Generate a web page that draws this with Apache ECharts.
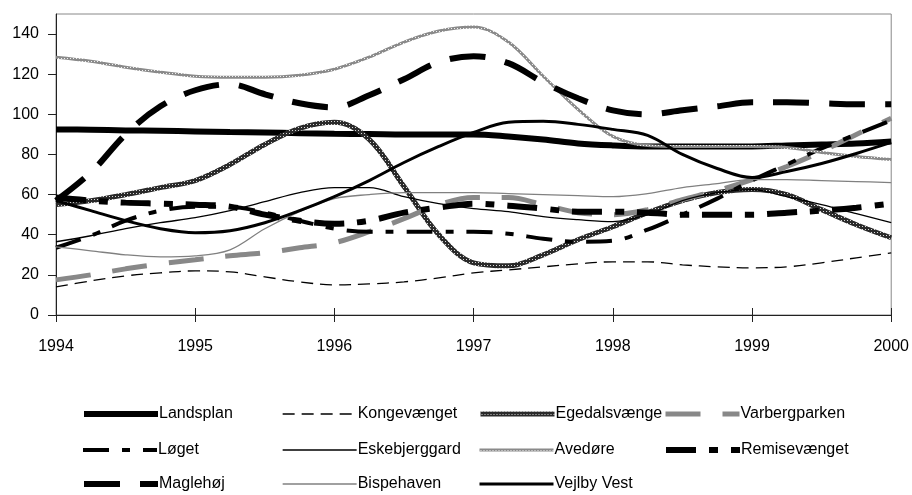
<!DOCTYPE html>
<html>
<head>
<meta charset="utf-8">
<script src="https://cdn.jsdelivr.net/npm/echarts@6/dist/echarts.min.js"></script>
<style>
  html, body { margin: 0; padding: 0; background: #fff; }
  #chart { width: 912px; height: 495px; }
</style>
</head>
<body>
<div id="chart"></div>
<script>
// quarterly x positions
const years = [1994, 1994.25, 1994.5, 1994.75, 1995, 1995.25, 1995.5, 1995.75, 1996, 1996.25, 1996.5, 1996.75,
  1997, 1997.25, 1997.5, 1997.75, 1998, 1998.25, 1998.5, 1998.75, 1999, 1999.25, 1999.5, 1999.75, 2000]

const landsplan = [92.5, 92.3, 92, 91.8, 91.5, 91.2, 91, 90.6, 90.3, 90.2, 90, 90, 90, 89, 87.5, 85.5, 84.5, 84, 84, 84, 84, 84.5, 85, 85.5, 86.5]
const kongevaenget = [14, 17, 19.5, 21, 22, 21.5, 19, 16.5, 15, 15.5, 16.5, 18.5, 21, 22.5, 24, 25.5, 26.5, 26.5, 25, 24, 23.5, 24, 26, 28.5, 31]
const egedalsvaenge = [55, 57, 60, 63.5, 67, 75, 85, 93, 96, 87.5, 64, 40, 26, 24.5, 30, 37.5, 44, 51, 57, 61, 62.5, 60, 52.5, 45, 38.5]
const varbergparken = [17.5, 20, 23, 25.5, 27.5, 29.5, 31, 33.5, 36, 41.5, 48, 55, 58.5, 58.5, 55, 51, 50, 52.5, 57.5, 62, 67.5, 74, 81.5, 90, 98]
const loget = [33.5, 39.5, 47, 52, 54, 54, 51, 47, 43, 41.5, 41.5, 41.5, 41.5, 40.5, 38, 36.5, 37, 42.5, 50, 58, 67, 75, 83, 90, 97]
const eskebjerggard = [36.5, 39.5, 43, 46, 48.5, 52, 56.5, 61, 63.5, 63.5, 59, 55.5, 53, 51.5, 49, 47.5, 46.5, 50, 57, 61, 62.5, 59, 55, 50.5, 46]
const avedore = [128.5, 126.5, 123.5, 121, 119, 118.5, 118.5, 119.5, 122.5, 128.5, 136, 141.5, 143.5, 136, 119, 102.5, 89, 84.5, 84, 84, 84, 83.5, 81, 79, 77.5]
const remisevaenget = [58.5, 57, 56, 55.5, 55, 54, 50, 47, 45.5, 47, 51, 53.5, 55.5, 54.5, 53, 51.5, 51.5, 51, 50, 50, 50, 51, 52, 53.5, 55.5]
const maglehoj = [57, 71, 90, 104, 112, 115, 110, 105.5, 103.5, 109.5, 117.5, 126, 129, 125.5, 116, 108, 102, 100, 102, 104, 106, 106, 105.5, 105, 105]
const bispehaven = [34, 32, 30, 29, 29.5, 32.5, 43, 51.5, 58, 60, 61, 61, 61, 60.5, 60, 59.5, 59, 60.5, 63.5, 65.5, 67.5, 67.5, 67, 66.5, 66]
const vejlbyVest = [57, 52, 47, 43, 41, 42, 46, 52, 59, 67, 76, 84, 91, 96, 96.5, 95, 92.5, 89.5, 80, 73, 68.5, 71.5, 75.5, 80.5, 86]

const yTicks = [0, 20, 40, 60, 80, 100, 120, 140]

// legend grid: columns x 3 rows
const legendCols = [
  ['Landsplan', 'Løget', 'Maglehøj'],
  ['Kongevænget', 'Eskebjerggard', 'Bispehaven'],
  ['Egedalsvænge', 'Avedøre', 'Vejlby Vest'],
  ['Varbergparken', 'Remisevænget'],
]
const legendLeft = [81, 282, 478, 663]
const legendRowY = [414, 450, 484]

// small checker patterns for the textured lines
function makePattern(dark, light) {
  const c = document.createElement('canvas')
  c.width = 3; c.height = 3
  const ctx = c.getContext('2d')
  ctx.fillStyle = dark
  ctx.fillRect(0, 0, 3, 3)
  ctx.fillStyle = light
  ctx.fillRect(1, 1, 1, 1)
  return { image: c, repeat: 'repeat' }
}
const egedalPattern = makePattern('#2a2a2a', '#d8d8d8')
const avedorePattern = makePattern('#8a8a8a', '#f0f0f0')

function pairs(vals) {
  return vals.map((v, i) => [years[i], v])
}

const styles = {}
function line(name, vals, color, width, type) {
  styles[name] = { color, width, type: type || 'solid' }
  return {
    name,
    type: 'line',
    data: pairs(vals),
    smooth: 0.35,
    symbol: 'none',
    lineStyle: { color, width, type: type || 'solid' },
    itemStyle: { color },
  }
}

const series = [
  line('Landsplan', landsplan, '#000', 6),
  line('Kongevænget', kongevaenget, '#000', 1.3, [12, 7]),
  line('Egedalsvænge', egedalsvaenge, egedalPattern, 5),
  line('Varbergparken', varbergparken, '#888', 5, [35, 22]),
  line('Løget', loget, '#000', 4, [26, 13, 8, 13]),
  line('Eskebjerggard', eskebjerggard, '#000', 1.3),
  line('Avedøre', avedore, avedorePattern, 3),
  line('Remisevænget', remisevaenget, '#000', 6, [30, 13, 9, 13]),
  line('Maglehøj', maglehoj, '#000', 6, [36, 20]),
  line('Bispehaven', bispehaven, '#808080', 1.3),
  line('Vejlby Vest', vejlbyVest, '#000', 3),
]

const font = 'Liberation Sans, Arial, sans-serif'

// one legend component per entry so the columns line up like the original
const legends = []
legendCols.forEach((names, c) => {
  names.forEach((n, r) => {
    legends.push({
      left: legendLeft[c],
      top: legendRowY[r] - 8,
      itemWidth: 74,
      itemHeight: 14,
      padding: 0,
      selectedMode: false,
      data: [{
        name: n,
        itemStyle: { opacity: 0 },
        lineStyle: { color: styles[n].color, width: styles[n].width, type: styles[n].type, opacity: 1 },
      }],
      textStyle: { fontFamily: font, fontSize: 16, color: '#000', padding: [0, 0, 0, -4] },
    })
  })
})

const chart = echarts.init(document.getElementById('chart'))
chart.setOption({
  animation: false,
  grid: {
    left: 56, right: 20, top: 14, bottom: 180,
    show: true, borderColor: '#888', borderWidth: 1,
  },
  xAxis: [
    {
      type: 'value', min: 1994, max: 2000, interval: 1,
      axisLine: { lineStyle: { color: '#222', width: 1 } },
      axisTick: { show: true, length: 7, lineStyle: { color: '#222' } },
      axisLabel: {
        margin: 24, color: '#000', fontFamily: font, fontSize: 16,
        formatter: v => String(v),
      },
      splitLine: { show: false },
    },
    {
      type: 'value', min: 1994, max: 2000, interval: 1, position: 'bottom',
      axisLine: { show: false },
      axisTick: { show: true, inside: true, length: 7, lineStyle: { color: '#222' } },
      axisLabel: { show: false },
      splitLine: { show: false },
    },
  ],
  yAxis: {
    type: 'value', min: 0, max: 150,
    axisLine: { show: true, lineStyle: { color: '#222', width: 1 } },
    axisTick: { show: true, length: 8, customValues: yTicks, lineStyle: { color: '#222' } },
    axisLabel: { margin: 17, color: '#000', fontFamily: font, fontSize: 16, customValues: yTicks },
    splitLine: { show: false },
  },
  legend: legends,
  series,
})
</script>
</body>
</html>
